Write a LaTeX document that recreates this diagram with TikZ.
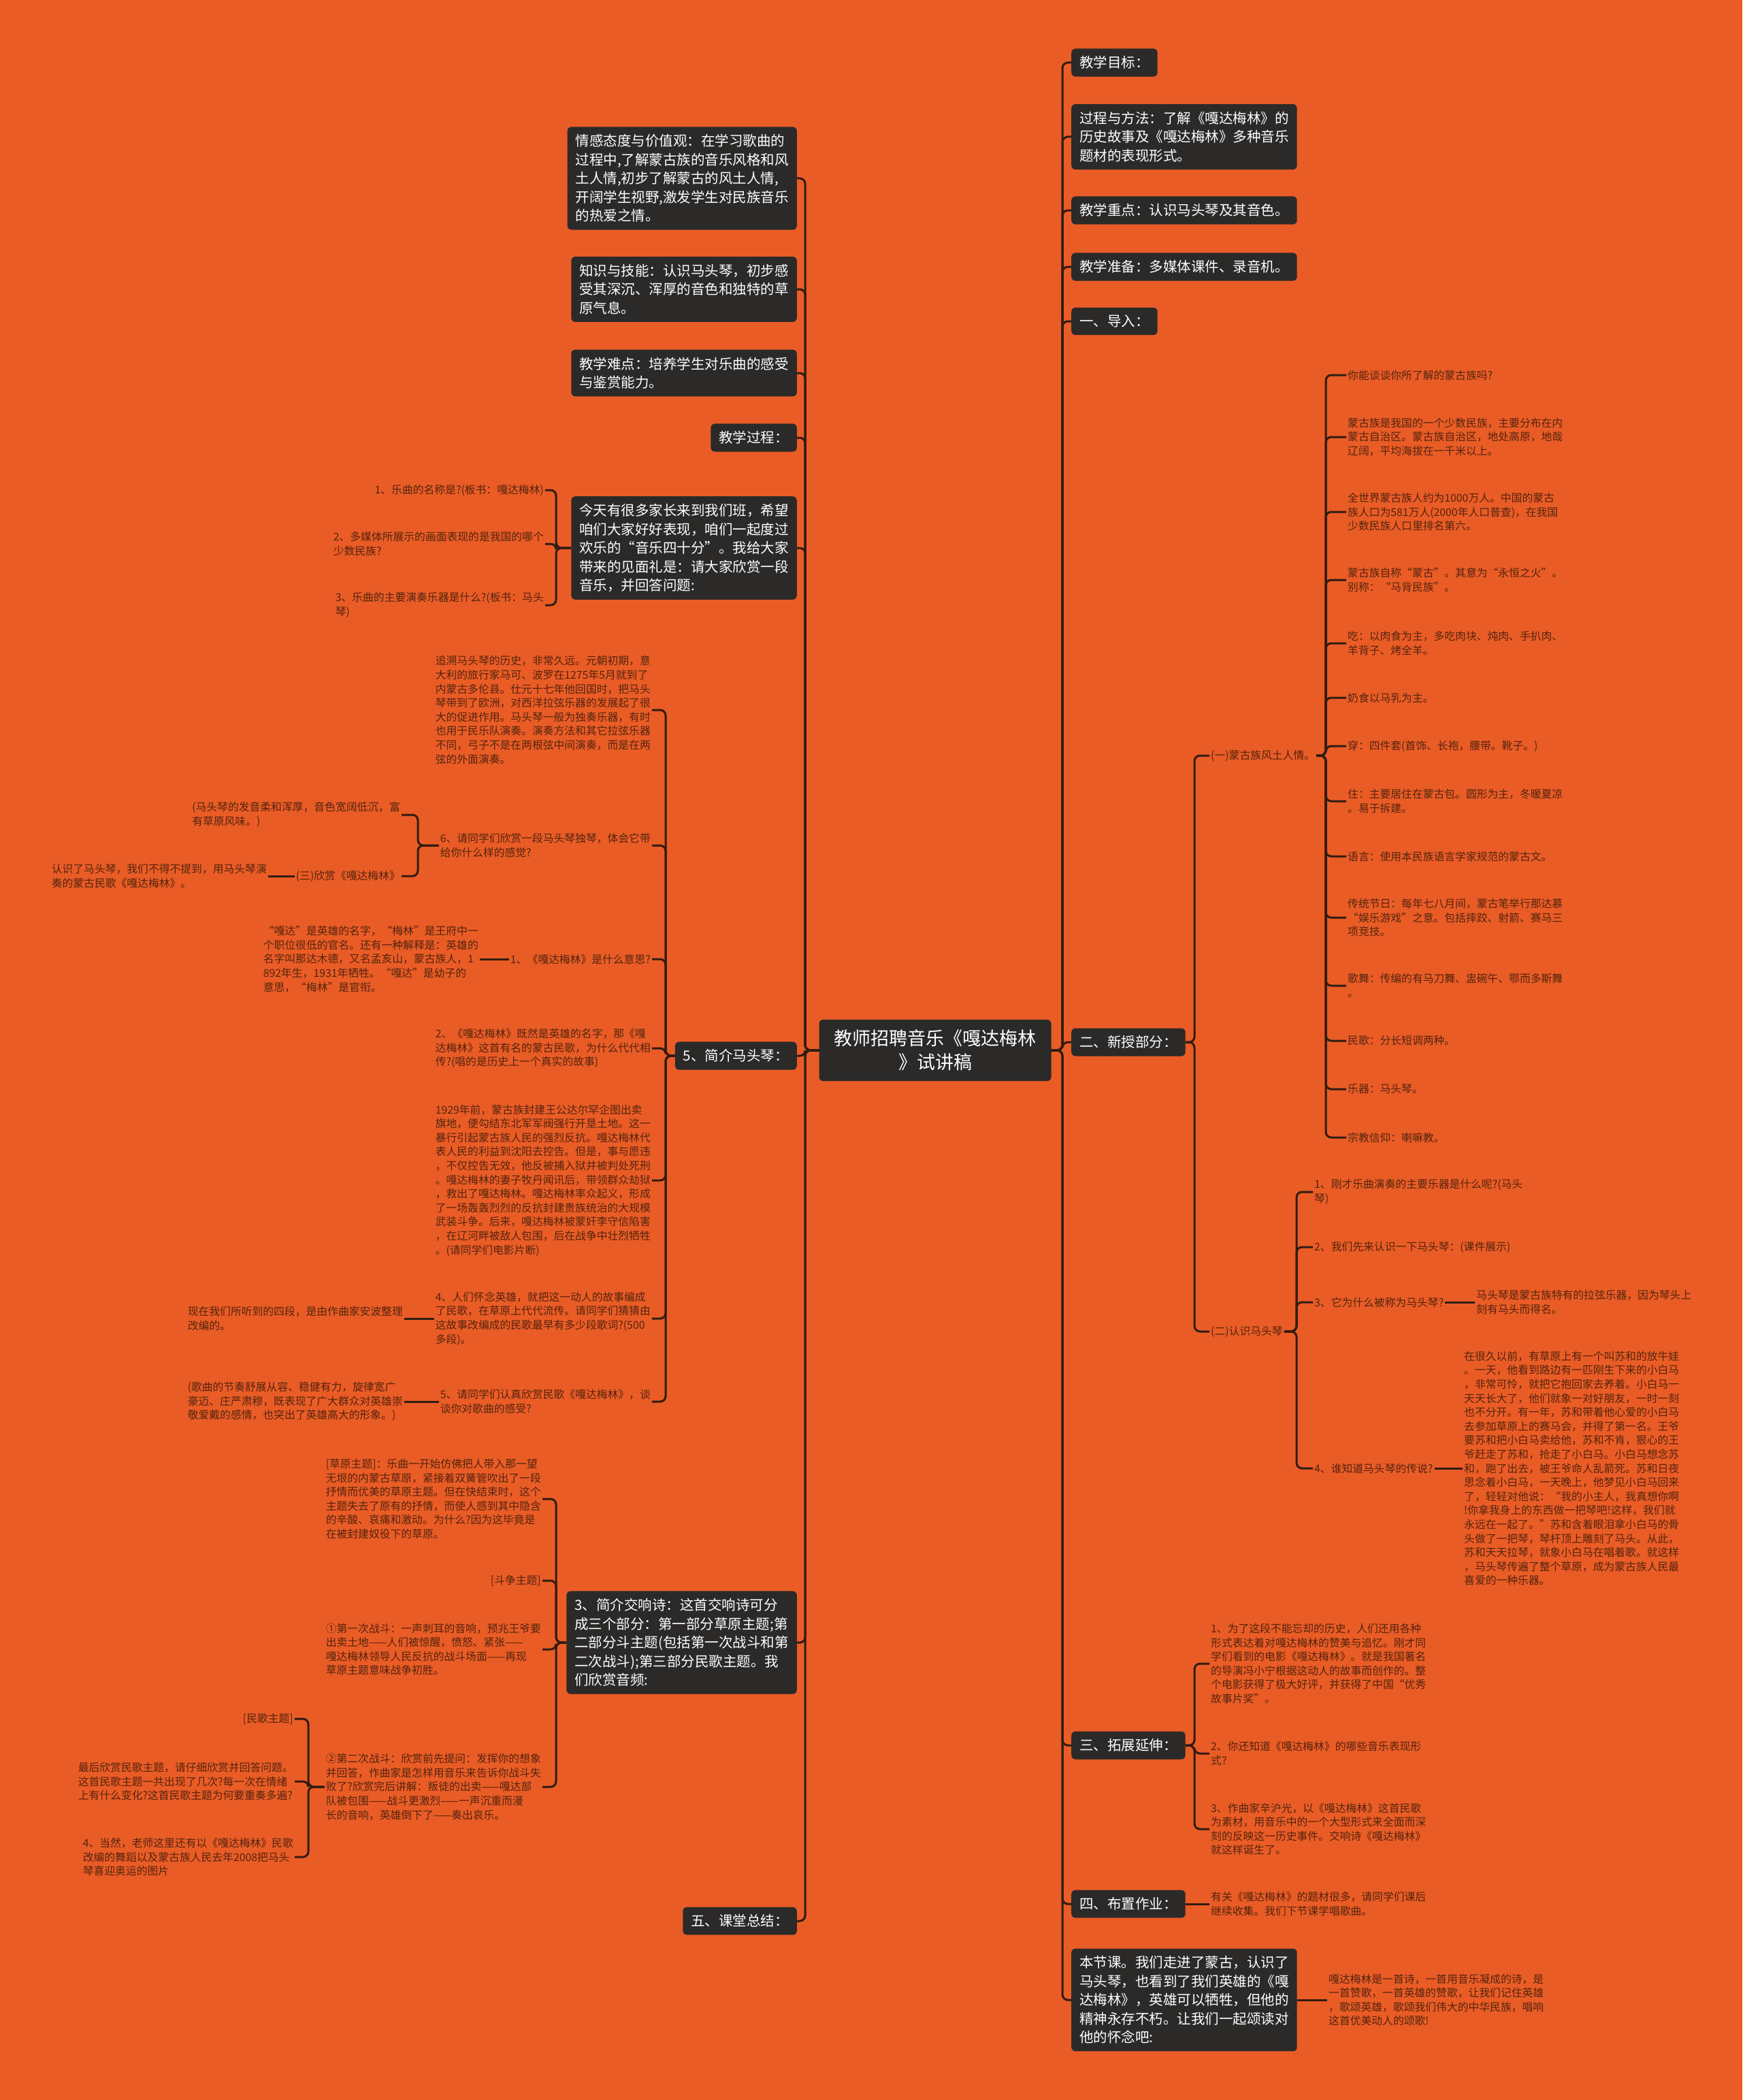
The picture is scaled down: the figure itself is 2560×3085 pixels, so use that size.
\documentclass[tikz,border=0pt]{standalone}
\usepackage{fontspec}
\setmainfont{Noto Sans CJK SC}
\definecolor{mmorange}{RGB}{234,92,38}
\definecolor{mmdark}{RGB}{43,42,41}
\definecolor{mmline}{RGB}{48,28,18}
\definecolor{mmtext}{RGB}{82,36,14}
\tikzset{
  topic/.style={fill=mmdark, rounded corners=6pt, text=white, align=left, font=\fontsize{20.5}{27.5}\selectfont, inner xsep=12pt, inner ysep=11pt},
  root/.style={topic, align=center, font=\fontsize{27}{35}\selectfont, inner xsep=22pt, inner ysep=15pt},
  leaf/.style={text=mmtext, align=left, font=\fontsize{15.8}{20.6}\selectfont, inner sep=2pt},
  leafR/.style={leaf, anchor=west},
  leafL/.style={leaf, anchor=east},
  link/.style={draw=mmline, line width=3pt, rounded corners=8pt}
}

\begin{document}
\begin{tikzpicture}[x=1pt,y=-1pt]
  \fill[mmorange] (0,0) rectangle (2560,3085);
  \useasboundingbox (0,0) rectangle (2560,3085);
  \node[root] (root) at (1374,1543) {教师招聘音乐《嘎达梅林\\》试讲稿};
  % right branch
  \node[topic, anchor=west] (goal) at (1574,92) {教学目标：};
  \node[topic, anchor=west] (method) at (1574,201) {过程与方法：了解《嘎达梅林》的\\历史故事及《嘎达梅林》多种音乐\\题材的表现形式。};
  \node[topic, anchor=west] (focus) at (1574,309) {教学重点：认识马头琴及其音色。};
  \node[topic, anchor=west] (prep) at (1574,392) {教学准备：多媒体课件、录音机。};
  \node[topic, anchor=west] (intro) at (1574,472) {一、导入：};
  \node[topic, anchor=west] (newpart) at (1574,1531) {二、新授部分：};
  \node[topic, anchor=west] (extend) at (1574,2564) {三、拓展延伸：};
  \node[topic, anchor=west] (homework) at (1574,2797) {四、布置作业：};
  \node[topic, anchor=west] (summary) at (1574,2938) {本节课。我们走进了蒙古，认识了\\马头琴，也看到了我们英雄的《嘎\\达梅林》，英雄可以牺牲，但他的\\精神永存不朽。让我们一起颂读对\\他的怀念吧:};
  % left branch
  \node[topic, anchor=east] (emotion) at (1171,262) {情感态度与价值观：在学习歌曲的\\过程中,了解蒙古族的音乐风格和风\\土人情,初步了解蒙古的风土人情,\\开阔学生视野,激发学生对民族音乐\\的热爱之情。};
  \node[topic, anchor=east] (skill) at (1171,425) {知识与技能：认识马头琴，初步感\\受其深沉、浑厚的音色和独特的草\\原气息。};
  \node[topic, anchor=east] (hard) at (1171,548) {教学难点：培养学生对乐曲的感受\\与鉴赏能力。};
  \node[topic, anchor=east] (process) at (1171,643) {教学过程：};
  \node[topic, anchor=east] (greet) at (1171,805) {今天有很多家长来到我们班，希望\\咱们大家好好表现，咱们一起度过\\欢乐的“音乐四十分”。我给大家\\带来的见面礼是：请大家欣赏一段\\音乐，并回答问题:};
  \node[topic, anchor=east] (horse) at (1171,1551) {5、简介马头琴：};
  \node[topic, anchor=east] (poem) at (1171,2413) {3、简介交响诗：这首交响诗可分\\成三个部分：第一部分草原主题;第\\二部分斗主题(包括第一次战斗和第\\二次战斗);第三部分民歌主题。我\\们欣赏音频:};
  \node[topic, anchor=east] (recap) at (1171,2822) {五、课堂总结：};

  % bracket points
  \coordinate (rootR) at (1561,1543);
  \coordinate (rootL) at (1183,1543);
  \coordinate (newbar) at (1755,1531);
  \coordinate (custbar) at (1948,1110);
  \coordinate (knowbar) at (1905,1956);
  \coordinate (extbar) at (1755,2564);
  \coordinate (greetbar) at (817,805);
  \coordinate (horsebar) at (978,1551);
  \coordinate (fbar) at (614,1242);
  \coordinate (poembar) at (817,2413);
  \coordinate (pbar) at (453,2625);

  % 二、新授部分
  \node[leafR] (cust) at (1777,1110) {(一)蒙古族风土人情。};
  \node[leafR] (know) at (1777,1956) {(二)认识马头琴};
  \node[leafR] (c1) at (1978,551) {你能谈谈你所了解的蒙古族吗?};
  \node[leafR] (c2) at (1978,642) {蒙古族是我国的一个少数民族，主要分布在内\\蒙古自治区。蒙古族自治区，地处高原，地哉\\辽阔，平均海拔在一千米以上。};
  \node[leafR] (c3) at (1978,752) {全世界蒙古族人约为1000万人。中国的蒙古\\族人口为581万人(2000年人口普查)，在我国\\少数民族人口里排名第六。};
  \node[leafR] (c4) at (1978,852) {蒙古族自称“蒙古”。其意为“永恒之火”。\\别称：“马背民族”。};
  \node[leafR] (c5) at (1978,945) {吃：以肉食为主，多吃肉块、炖肉、手扒肉、\\羊背子、烤全羊。};
  \node[leafR] (c6) at (1978,1025) {奶食以马乳为主。};
  \node[leafR] (c7) at (1978,1096) {穿：四件套(首饰、长袍，腰带。靴子。)};
  \node[leafR] (c8) at (1978,1177) {住：主要居住在蒙古包。圆形为主，冬暖夏凉\\。易于拆建。};
  \node[leafR] (c9) at (1978,1258) {语言：使用本民族语言学家规范的蒙古文。};
  \node[leafR] (c10) at (1978,1348) {传统节日：每年七八月间，蒙古笔举行那达慕\\“娱乐游戏”之意。包括摔跤、射箭、赛马三\\项竞技。};
  \node[leafR] (c11) at (1978,1448) {歌舞：传编的有马刀舞、盅碗午、鄂而多斯舞\\。};
  \node[leafR] (c12) at (1978,1529) {民歌：分长短调两种。};
  \node[leafR] (c13) at (1978,1600) {乐器：马头琴。};
  \node[leafR] (c14) at (1978,1671) {宗教信仰：喇嘛教。};
  \node[leafR] (k1) at (1929,1751) {1、刚才乐曲演奏的主要乐器是什么呢?(马头\\琴)};
  \node[leafR] (k2) at (1929,1832) {2、我们先来认识一下马头琴：(课件展示)};
  \node[leafR] (k3) at (1929,1913) {3、它为什么被称为马头琴?};
  \node[leafR] (k4) at (1929,2157) {4、谁知道马头琴的传说?};
  \node[leafR] (k3a) at (2167,1913) {马头琴是蒙古族特有的拉弦乐器，因为琴头上\\刻有马头而得名。};
  \node[leafR] (k4a) at (2149,2157) {在很久以前，有草原上有一个叫苏和的放牛娃\\。一天，他看到路边有一匹刚生下来的小白马\\，非常可怜，就把它抱回家去养着。小白马一\\天天长大了，他们就象一对好朋友，一时一刻\\也不分开。有一年，苏和带着他心爱的小白马\\去参加草原上的赛马会，并得了第一名。王爷\\要苏和把小白马卖给他，苏和不肯，狠心的王\\爷赶走了苏和，抢走了小白马。小白马想念苏\\和，跑了出去，被王爷命人乱箭死。苏和日夜\\思念着小白马，一天晚上，他梦见小白马回来\\了，轻轻对他说：“我的小主人，我真想你啊\\!你拿我身上的东西做一把琴吧!这样，我们就\\永远在一起了。”苏和含着眼泪拿小白马的骨\\头做了一把琴，琴杆顶上雕刻了马头。从此，\\苏和天天拉琴，就象小白马在唱着歌。就这样\\，马头琴传遍了整个草原，成为蒙古族人民最\\喜爱的一种乐器。};
  % 三、四、本节课
  \node[leafR] (e1) at (1777,2444) {1、为了这段不能忘却的历史，人们还用各种\\形式表达着对嘎达梅林的赞美与追忆。刚才同\\学们看到的电影《嘎达梅林》。就是我国著名\\的导演冯小宁根据这动人的故事而创作的。整\\个电影获得了极大好评，并获得了中国“优秀\\故事片奖”。};
  \node[leafR] (e2) at (1777,2576) {2、你还知道《嘎达梅林》的哪些音乐表现形\\式?};
  \node[leafR] (e3) at (1777,2687) {3、作曲家辛沪光，以《嘎达梅林》这首民歌\\为素材，用音乐中的一个大型形式来全面而深\\刻的反映这一历史事件。交响诗《嘎达梅林》\\就这样诞生了。};
  \node[leafR] (hw1) at (1777,2797) {有关《嘎达梅林》的题材很多，请同学们课后\\继续收集。我们下节课学唱歌曲。};
  \node[leafR] (sm1) at (1950,2938) {嘎达梅林是一首诗，一首用音乐凝成的诗，是\\一首赞歌，一首英雄的赞歌，让我们记住英雄\\，歌颂英雄，歌颂我们伟大的中华民族，唱响\\这首优美动人的颂歌!};

  % 今天有很多家长
  \node[leafL] (q1) at (801,720) {1、乐曲的名称是?(板书：嘎达梅林)};
  \node[leafL] (q2) at (801,799) {2、多媒体所展示的画面表现的是我国的哪个\\少数民族?};
  \node[leafL] (q3) at (801,889) {3、乐曲的主要演奏乐器是什么?(板书：马头\\琴)};
  % 5、简介马头琴
  \node[leafL] (f1) at (958,1043) {追溯马头琴的历史，非常久远。元朝初期，意\\大利的旅行家马可、波罗在1275年5月就到了\\内蒙古多伦县。仕元十七年他回国时，把马头\\琴带到了欧洲，对西洋拉弦乐器的发展起了很\\大的促进作用。马头琴一般为独奏乐器，有时\\也用于民乐队演奏。演奏方法和其它拉弦乐器\\不同，弓子不是在两根弦中间演奏，而是在两\\弦的外面演奏。};
  \node[leafL] (f2) at (958,1242) {6、请同学们欣赏一段马头琴独琴，体会它带\\给你什么样的感觉?};
  \node[leafL] (f3) at (958,1409) {1、《嘎达梅林》是什么意思?};
  \node[leafL] (f4) at (958,1540) {2、《嘎达梅林》既然是英雄的名字，那《嘎\\达梅林》这首有名的蒙古民歌，为什么代代相\\传?(唱的是历史上一个真实的故事)};
  \node[leafL] (f5) at (958,1734) {1929年前，蒙古族封建王公达尔罕企图出卖\\旗地，便勾结东北军军阀强行开垦土地。这一\\暴行引起蒙古族人民的强烈反抗。嘎达梅林代\\表人民的利益到沈阳去控告。但是，事与愿违\\，不仅控告无效，他反被捕入狱并被判处死刑\\。嘎达梅林的妻子牧丹闻讯后，带领群众劫狱\\，救出了嘎达梅林。嘎达梅林率众起义，形成\\了一场轰轰烈烈的反抗封建贵族统治的大规模\\武装斗争。后来，嘎达梅林被蒙奸李守信陷害\\，在辽河畔被敌人包围，后在战争中壮烈牺牲\\。(请同学们电影片断)};
  \node[leafL] (f6) at (958,1937) {4、人们怀念英雄，就把这一动人的故事编成\\了民歌，在草原上代代流传。请同学们猜猜由\\这故事改编成的民歌最早有多少段歌词?(500\\多段)。};
  \node[leafL] (f7) at (958,2059) {5、请同学们认真欣赏民歌《嘎达梅林》，谈\\谈你对歌曲的感受?};
  \node[leafL] (f2a) at (590,1197) {(马头琴的发音柔和浑厚，音色宽阔低沉，富\\有草原风味。)};
  \node[leafL] (f2b) at (590,1287) {(三)欣赏《嘎达梅林》};
  \node[leafL] (f2c) at (394,1287) {认识了马头琴，我们不得不提到，用马头琴演\\奏的蒙古民歌《嘎达梅林》。};
  \node[leafL] (f3a) at (705,1409) {“嘎达”是英雄的名字，“梅林”是王府中一\\个职位很低的官名。还有一种解释是：英雄的\\名字叫那达木德，又名孟亥山，蒙古族人，1\\892年生，1931年牺牲。“嘎达”是幼子的\\意思，“梅林”是官衔。};
  \node[leafL] (f6a) at (594,1937) {现在我们所听到的四段，是由作曲家安波整理\\改编的。};
  \node[leafL] (f7a) at (594,2059) {(歌曲的节奏舒展从容、稳健有力，旋律宽广\\豪迈、庄严肃穆，既表现了广大群众对英雄崇\\敬爱戴的感情，也突出了英雄高大的形象。)};
  % 3、简介交响诗
  \node[leafL] (p1) at (797,2202) {[草原主题]：乐曲一开始仿佛把人带入那一望\\无垠的内蒙古草原，紧接着双簧管吹出了一段\\抒情而优美的草原主题。但在快结束时，这个\\主题失去了原有的抒情，而使人感到其中隐含\\的辛酸、哀痛和激动。为什么?因为这毕竟是\\在被封建奴役下的草原。};
  \node[leafL] (p2) at (797,2322) {[斗争主题]};
  \node[leafL] (p3) at (797,2423) {①第一次战斗：一声刺耳的音响，预兆王爷要\\出卖土地——人们被惊醒，愤怒、紧张——\\嘎达梅林领导人民反抗的战斗场面——再现\\草原主题意味战争初胜。};
  \node[leafL] (p4) at (797,2625) {②第二次战斗：欣赏前先提问：发挥你的想象\\并回答，作曲家是怎样用音乐来告诉你战斗失\\败了?欣赏完后讲解：叛徒的出卖——嘎达部\\队被包围——战斗更激烈——一声沉重而漫\\长的音响，英雄倒下了——奏出哀乐。};
  \node[leafL] (p4a) at (433,2525) {[民歌主题]};
  \node[leafL] (p4b) at (433,2617) {最后欣赏民歌主题，请仔细欣赏并回答问题。\\这首民歌主题一共出现了几次?每一次在情绪\\上有什么变化?这首民歌主题为何要重奏多遍?};
  \node[leafL] (p4c) at (433,2728) {4、当然，老师这里还有以《嘎达梅林》民歌\\改编的舞蹈以及蒙古族人民去年2008把马头\\琴喜迎奥运的图片};

  % connectors
  \foreach \b in {goal,method,focus,prep,intro,newpart,extend,homework,summary}{\draw[link] (root.east) -- (rootR) |- (\b.west);}
  \foreach \b in {emotion,skill,hard,process,greet,horse,poem,recap}{\draw[link] (root.west) -- (rootL) |- (\b.east);}
  \foreach \b in {cust,know}{\draw[link] (newpart.east) -- (newpart.east -| newbar) |- (\b.west);}
  \foreach \b in {c1,c2,c3,c4,c5,c6,c7,c8,c9,c10,c11,c12,c13,c14}{\draw[link] (cust.east) -- (cust.east -| custbar) |- (\b.west);}
  \foreach \b in {k1,k2,k3,k4}{\draw[link] (know.east) -- (know.east -| knowbar) |- (\b.west);}
  \foreach \b in {e1,e2,e3}{\draw[link] (extend.east) -- (extend.east -| extbar) |- (\b.west);}
  \foreach \a/\b in {k3/k3a,k4/k4a,homework/hw1,summary/sm1}{\draw[link] (\a.east) -- (\b.west);}
  \foreach \b in {q1,q2,q3}{\draw[link] (greet.west) -- (greet.west -| greetbar) |- (\b.east);}
  \foreach \b in {f1,f2,f3,f4,f5,f6,f7}{\draw[link] (horse.west) -- (horse.west -| horsebar) |- (\b.east);}
  \foreach \b in {f2a,f2b}{\draw[link] (f2.west) -- (f2.west -| fbar) |- (\b.east);}
  \foreach \b in {p1,p2,p3,p4}{\draw[link] (poem.west) -- (poem.west -| poembar) |- (\b.east);}
  \foreach \b in {p4a,p4b,p4c}{\draw[link] (p4.west) -- (p4.west -| pbar) |- (\b.east);}
  \foreach \a/\b in {f2b/f2c,f3/f3a,f6/f6a,f7/f7a}{\draw[link] (\a.west) -- (\b.east);}
\end{tikzpicture}
\end{document}
